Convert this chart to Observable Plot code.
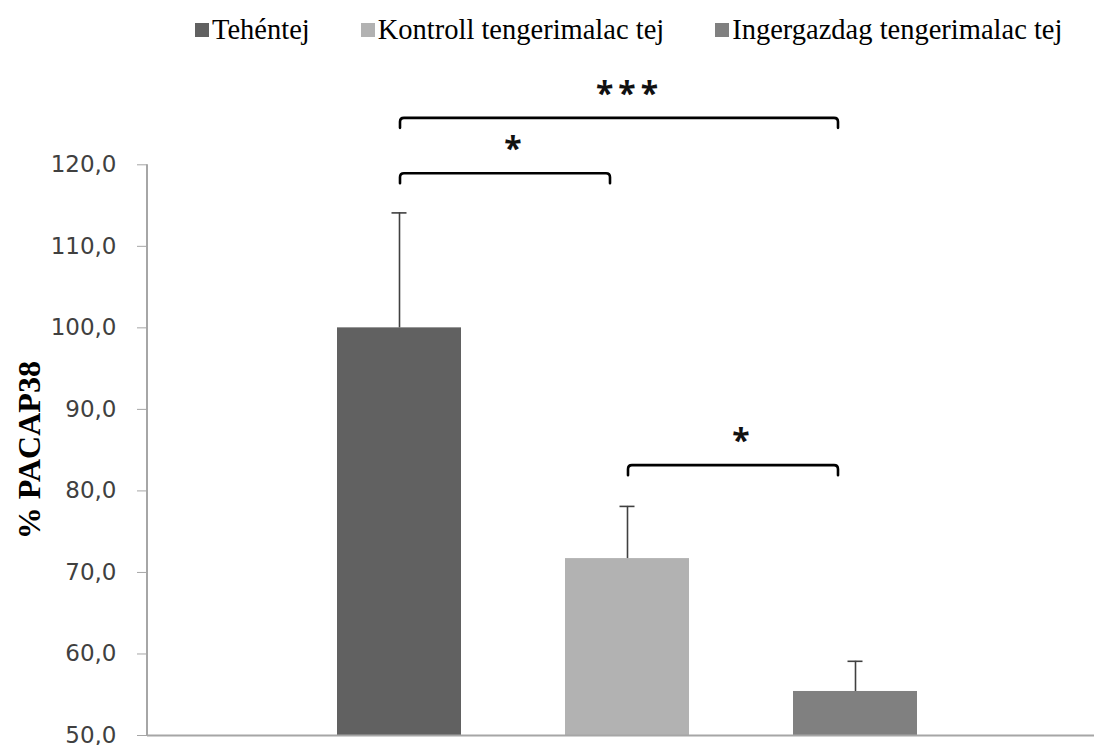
<!DOCTYPE html>
<html>
<head>
<meta charset="utf-8">
<script src="https://cdn.jsdelivr.net/npm/d3@7"></script>
<script src="https://cdn.jsdelivr.net/npm/@observablehq/plot@0.6"></script>
<style>
  html, body { margin: 0; padding: 0; background: #fff; overflow: hidden; }
  #legend {
    height: 60px; display: flex; align-items: center;
    padding-left: 195px; box-sizing: border-box; white-space: nowrap;
    font-family: "Liberation Serif", "Times New Roman", serif; font-size: 28.5px; color: #000;
  }
  #legend .item { display: flex; align-items: center; margin-right: 51px; flex: 0 0 auto; white-space: nowrap; }
  #legend .sw { width: 14px; height: 14px; margin-right: 3px; flex: 0 0 auto; }
</style>
</head>
<body>
<div id="legend"></div>
<div id="chart"></div>
<script>
// Groups, mean %PACAP38 and upper error (SD)
const groups = ["Tehéntej", "Kontroll tengerimalac tej", "Ingergazdag tengerimalac tej"];
const means = [100.0, 71.7, 55.4];
const errors = [14.1, 6.4, 3.7];
const colors = ["#616161", "#b2b2b2", "#808080"];
const yTicks = [50, 60, 70, 80, 90, 100, 110, 120];

// Significance brackets
const bracketFrom = ["Tehéntej", "Tehéntej", "Kontroll tengerimalac tej"];
const bracketTo = ["Kontroll tengerimalac tej", "Ingergazdag tengerimalac tej", "Ingergazdag tengerimalac tej"];
const bracketLevel = [118.9, 125.7, 83.1];
const bracketLabel = ["*", "***", "*"];

const rows = groups.map((g, i) => ({group: g, mean: means[i], err: errors[i], top: means[i] + errors[i]}));
const brackets = bracketFrom.map((f, i) => ({from: f, to: bracketTo[i], level: bracketLevel[i], label: bracketLabel[i]}));

// Legend
const legend = d3.select("#legend");
groups.forEach((g, i) => {
  const it = legend.append("div").attr("class", "item");
  it.append("div").attr("class", "sw").style("background", colors[i]);
  it.append("span").text(g);
});

const fmt = d => d.toFixed(1).replace(".", ",");
const center = (s, v) => {
  const bw = typeof s.bandwidth === "function" ? s.bandwidth() : (s.bandwidth || 0);
  return s(v) + bw / 2;
};

// Vertical axis line
function axisLine(index, scales, values, dims) {
  const y = scales.y;
  return d3.create("svg:line")
    .attr("x1", dims.marginLeft).attr("x2", dims.marginLeft)
    .attr("y1", y(120)).attr("y2", y(50))
    .attr("stroke", "#a6a6a6").attr("stroke-width", 2)
    .node();
}

// Brackets with their asterisk labels
function bracketMark(index, scales) {
  const g = d3.create("svg:g");
  const x = scales.x, y = scales.y;
  for (const b of brackets) {
    const x1 = center(x, b.from) + 1;
    const x2 = center(x, b.to) - 17;
    const yl = y(b.level);
    const r = 4;
    const ls = b.label.length > 1 ? 5 : 0;
    g.append("path")
      .attr("d", `M${x1},${yl + 10}V${yl + r}Q${x1},${yl} ${x1 + r},${yl}H${x2 - r}Q${x2},${yl} ${x2},${yl + r}V${yl + 10}`)
      .attr("fill", "none").attr("stroke", "#000").attr("stroke-width", 2.6)
      .attr("stroke-linecap", "round");
    g.append("text")
      .attr("x", (x1 + x2) / 2 + 8 + ls / 2).attr("y", yl - 13)
      .attr("text-anchor", "middle")
      .attr("font-family", "Noto Sans, DejaVu Sans, sans-serif")
      .attr("font-weight", "bold")
      .attr("font-size", 32)
      .attr("letter-spacing", ls)
      .attr("fill", "#111")
      .text(b.label);
  }
  return g.node();
}

const chart = Plot.plot({
  width: 1094,
  height: 685,
  marginLeft: 147,
  marginRight: 0,
  marginTop: 104.3,
  marginBottom: 10,
  style: {fontFamily: "DejaVu Sans, Verdana, sans-serif", fontSize: "23px", background: "#fff"},
  x: {type: "band", domain: groups, range: [147, 1106], paddingInner: 0.4575, paddingOuter: 0.826, axis: null},
  y: {domain: [50, 120]},
  marks: [
    Plot.barY(rows, {x: "group", y1: 50, y2: "mean", fill: (d) => colors[groups.indexOf(d.group)]}),
    Plot.ruleX(rows, {x: "group", y1: "mean", y2: "top", stroke: "#404040", strokeWidth: 1.6}),
    Plot.tickY(rows, {x: "group", y: "top", stroke: "#404040", strokeWidth: 1.6, insetLeft: 54.5, insetRight: 54.5}),
    Plot.ruleY([50], {stroke: "#a6a6a6", strokeWidth: 2}),
    axisLine,
    Plot.axisY({ticks: yTicks, tickSize: 10, tickPadding: 21, tickFormat: fmt, label: null, stroke: "#a6a6a6", fill: "#404040"}),
    Plot.text(["% PACAP38"], {frameAnchor: "left", textAnchor: "middle", dx: -118, rotate: -90, fontFamily: "Liberation Serif", fontWeight: "bold", fontSize: 32, fill: "#000"}),
    bracketMark
  ]
});
document.getElementById("chart").appendChild(chart);
</script>
</body>
</html>
